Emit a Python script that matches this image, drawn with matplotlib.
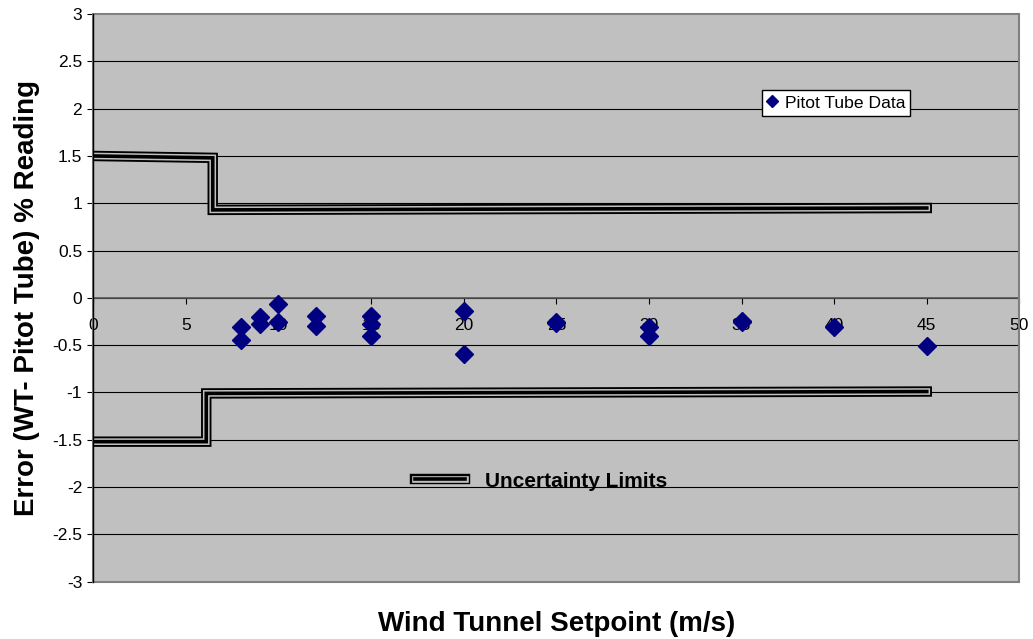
import matplotlib.pyplot as plt
import matplotlib.patheffects as pe
from matplotlib.patches import Rectangle
from matplotlib.lines import Line2D

plt.rcParams['font.family'] = ['Liberation Sans', 'DejaVu Sans']

# Datos
setpoint = [8, 8, 9, 9, 10, 10, 12, 12, 15, 15, 15, 20, 20, 25, 25, 30, 30, 35, 35, 40, 45]
error = [-0.31, -0.45, -0.20, -0.28, -0.07, -0.26, -0.19, -0.30, -0.19, -0.28, -0.40,
         -0.14, -0.59, -0.25, -0.27, -0.31, -0.40, -0.24, -0.26, -0.31, -0.51]

upper_x = [0, 6.45, 6.45, 45]
upper_y = [1.50, 1.48, 0.93, 0.95]
lower_x = [0, 6.1, 6.1, 45]
lower_y = [-1.52, -1.52, -1.01, -0.99]

x_ticks = [0, 5, 10, 15, 20, 25, 30, 35, 40, 45, 50]
y_ticks = [-3, -2.5, -2, -1.5, -1, -0.5, 0, 0.5, 1, 1.5, 2, 2.5, 3]

fig = plt.figure(figsize=(10.33, 6.39), dpi=100)
ax = fig.add_axes([0.0903, 0.0897, 0.8965, 0.8883])
ax.set_facecolor('#c0c0c0')

# lineas de la cuadricula
for v in y_ticks[1:-1]:
    ax.axhline(v, color='black', lw=0.8, zorder=1)

# limites de incertidumbre (linea triple)
triple = [pe.Stroke(linewidth=7.5, foreground='black'),
          pe.Stroke(linewidth=4.8, foreground='#c0c0c0'),
          pe.Normal()]
ax.plot(upper_x, upper_y, color='black', lw=2.6, path_effects=triple,
        solid_joinstyle='miter', zorder=3)
ax.plot(lower_x, lower_y, color='black', lw=2.6, path_effects=triple,
        solid_joinstyle='miter', zorder=3)

ax.plot(setpoint, error, 'D', color='#000080', ms=9.5, mec='#000080', zorder=5)

ax.set_xlim(0, 50)
ax.set_ylim(-3, 3)
ax.set_xticks(x_ticks)
ax.set_yticks(y_ticks)
ax.set_yticklabels(['-3', '-2.5', '-2', '-1.5', '-1', '-0.5', '0', '0.5', '1', '1.5', '2', '2.5', '3'])

ax.spines['bottom'].set_position(('data', 0))
ax.spines['bottom'].set_color('#555555')
ax.spines['bottom'].set_linewidth(1.2)
ax.spines['top'].set_visible(False)
ax.spines['right'].set_visible(False)
ax.spines['left'].set_color('black')
ax.spines['left'].set_linewidth(1.0)
ax.spines['left'].set_zorder(6)
ax.add_patch(Rectangle((0, 0), 1, 1, transform=ax.transAxes, fill=False,
                       edgecolor='#808080', lw=1.5, clip_on=False, zorder=4))

ax.tick_params(axis='x', direction='out', length=4, width=0.8, pad=10.5, labelsize=12.5)
ax.tick_params(axis='y', direction='out', length=4, width=0.8, pad=4, labelsize=12.5)
for lbl in ax.get_xticklabels():
    lbl.set_zorder(4)

ax.set_xlabel('Wind Tunnel Setpoint (m/s)', fontsize=20, fontweight='bold', va='center')
ax.xaxis.set_label_coords(0.5, -0.074)
ax.set_ylabel('Error (WT- Pitot Tube) % Reading', fontsize=20, fontweight='bold', va='center')
ax.yaxis.set_label_coords(-0.0716, 0.5)

h1 = Line2D([], [], ls='none', marker='D', color='#000080', ms=6)
leg1 = ax.legend([h1], ['Pitot Tube Data'], loc='upper left', bbox_to_anchor=(0.722, 0.866),
                 borderaxespad=0, fancybox=False, framealpha=1, edgecolor='black',
                 fontsize=12.6, handlelength=0.6, handletextpad=0.4, borderpad=0.3)
leg1.get_frame().set_linewidth(1.0)
ax.add_artist(leg1)

h2 = Line2D([], [], color='black', lw=2.6, path_effects=triple)
leg2 = ax.legend([h2], ['Uncertainty Limits'], loc='center left', bbox_to_anchor=(0.347, 0.177),
                 borderaxespad=0, frameon=False, handlelength=2.4, handletextpad=1.0,
                 borderpad=0, prop={'size': 15, 'weight': 'bold'})

fig.savefig('out.png', dpi=100)
